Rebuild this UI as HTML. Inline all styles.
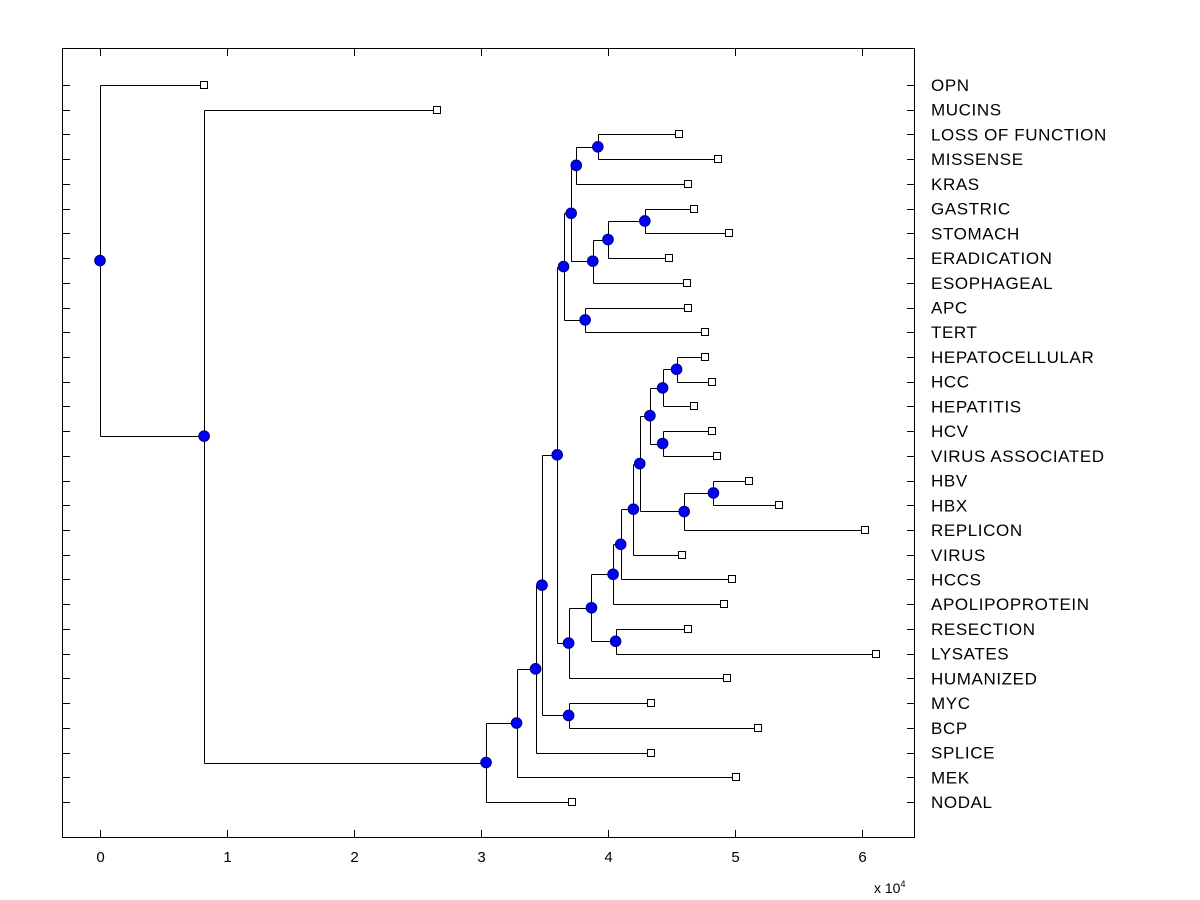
<!DOCTYPE html>
<html><head><meta charset="utf-8"><style>
body{margin:0;background:#fff;}
svg{display:block;font-family:"Liberation Sans",Arial,sans-serif;}
</style></head><body>
<svg id="chart" width="1200" height="900" viewBox="0 0 1200 900" xmlns="http://www.w3.org/2000/svg">
<rect x="0" y="0" width="1200" height="900" fill="#fff"/>
<g id="ticks"></g>
<g id="tree"></g>
<g id="marks"></g>
<g id="labels"></g>
<rect x="62.5" y="48.5" width="852" height="789" fill="none" stroke="#000" stroke-width="1"/>
<text x="874" y="893" font-size="14">x 10<tspan font-size="9" dy="-6">4</tspan></text>
</svg>
<script>
const leafNames=["OPN","MUCINS","LOSS OF FUNCTION","MISSENSE","KRAS","GASTRIC","STOMACH","ERADICATION","ESOPHAGEAL","APC","TERT","HEPATOCELLULAR","HCC","HEPATITIS","HCV","VIRUS ASSOCIATED","HBV","HBX","REPLICON","VIRUS","HCCS","APOLIPOPROTEIN","RESECTION","LYSATES","HUMANIZED","MYC","BCP","SPLICE","MEK","NODAL"];
const leafValues=[0.82,2.65,4.56,4.87,4.63,4.68,4.95,4.48,4.62,4.63,4.76,4.76,4.82,4.68,4.82,4.86,5.11,5.35,6.02,4.58,4.98,4.91,4.63,6.11,4.94,4.34,5.18,4.34,5.01,3.72];
const mergeLeft=[2,30,5,32,33,31,9,35,11,38,14,39,16,42,41,44,45,46,22,47,49,37,25,51,53,54,55,1,0];
const mergeRight=[3,4,6,7,8,34,10,36,12,13,15,40,17,18,43,19,20,21,23,48,24,50,26,52,27,28,29,56,57];
const mergeValues=[3.92,3.75,4.29,4.0,3.88,3.71,3.82,3.65,4.54,4.43,4.43,4.33,4.83,4.6,4.25,4.2,4.1,4.04,4.06,3.87,3.69,3.6,3.69,3.48,3.43,3.28,3.04,0.82,0];
const xTicks=[0,1,2,3,4,5,6];

const NS="http://www.w3.org/2000/svg";
const X0=62,X1=915,Y0=48,Y1=838;
function xScale(v){return 100+v*127;}
function yScale(i){return 85+i*(802-85)/29;}
function mk(tag,attrs,parent){const e=document.createElementNS(NS,tag);for(const k in attrs)e.setAttribute(k,attrs[k]);parent.appendChild(e);return e;}
const gT=document.getElementById('ticks'),gTree=document.getElementById('tree'),gM=document.getElementById('marks'),gL=document.getElementById('labels');

xTicks.forEach(t=>{const x=Math.round(xScale(t))+0.5;
 let l=mk('line',{x1:x,x2:x,y1:Y1,y2:Y1-8,stroke:'#000'},gT);
 
 
 let l2=mk('line',{x1:x,x2:x,y1:Y0,y2:Y0+8,stroke:'#000'},gT);
 
 
 let tx=mk('text',{x:x,y:862,'font-size':15,'text-anchor':'middle'},gL);tx.textContent=t;
 
 
});

const nx=[],ny=[];
leafNames.forEach((n,i)=>{nx[i]=xScale(leafValues[i]);ny[i]=yScale(i);
 const y=Math.round(ny[i])+0.5;
 let a=mk('line',{x1:X0,x2:X0+8,y1:y,y2:y,stroke:'#000'},gT);
 
 
 let b=mk('line',{x1:X1-8,x2:X1,y1:y,y2:y,stroke:'#000'},gT);
 
 
 let t=mk('text',{x:931,y:ny[i]+6,'font-size':17,'letter-spacing':0.6},gL);t.textContent=n;
 
 
});
const N=leafNames.length;
mergeValues.forEach((h,k)=>{const id=N+k,a=mergeLeft[k],b=mergeRight[k];
 nx[id]=xScale(h);ny[id]=(ny[a]+ny[b])/2;
 const x=Math.round(nx[id])+0.5;
 let v=mk('line',{x1:x,x2:x,y1:Math.round(ny[a])+0.5,y2:Math.round(ny[b])+0.5,stroke:'#000'},gTree);
 
 
 [a,b].forEach(c=>{const y=Math.round(ny[c])+0.5;
  let hl=mk('line',{x1:x,x2:Math.round(nx[c])+0.5,y1:y,y2:y,stroke:'#000'},gTree);
  
  
 });
});
for(let i=0;i<N;i++){
 let r=mk('rect',{x:Math.round(nx[i])-3.5,y:Math.round(ny[i])-3.5,width:7,height:7,fill:'#fff',stroke:'#000'},gM);
 
 
}
for(let k=0;k<mergeValues.length;k++){const id=N+k;
 let c=mk('circle',{cx:nx[id],cy:ny[id],r:5.3,fill:'#0000ff',stroke:'#00007a','stroke-width':1},gM);
 
 
}
</script>
</body></html>
